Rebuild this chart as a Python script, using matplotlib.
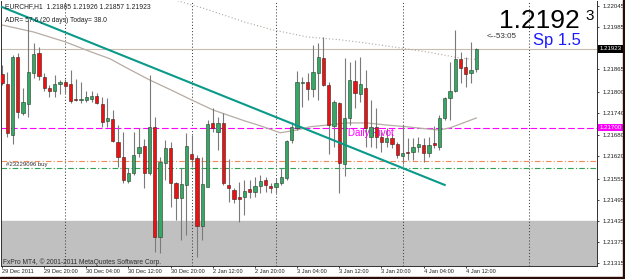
import matplotlib.pyplot as plt
import matplotlib.transforms as mtransforms
from matplotlib.patches import Rectangle
import numpy as np

# EURCHF H1 candles (oldest first)
opens = [1.21852, 1.21824, 1.21679, 1.21900, 1.21742, 1.21767, 1.21855, 1.21912, 1.21844, 1.21812,
         1.21804, 1.21824, 1.21829, 1.21824, 1.21781, 1.21778, 1.21778, 1.21781, 1.21790, 1.21767,
         1.21719, 1.21724, 1.21659, 1.21617, 1.21549, 1.21571, 1.21628, 1.21648, 1.21571, 1.21702,
         1.21390, 1.21600, 1.21643, 1.21543, 1.21500, 1.21537, 1.21625, 1.21614, 1.21421, 1.21531,
         1.21713, 1.21687, 1.21713, 1.21537, 1.21523, 1.21503, 1.21503, 1.21526, 1.21517, 1.21534,
         1.21551, 1.21534, 1.21531, 1.21543, 1.21557, 1.21665, 1.21699, 1.21827, 1.21829, 1.21810,
         1.21855, 1.21897, 1.21821, 1.21705, 1.21770, 1.21597, 1.21727, 1.21832, 1.21795, 1.21812,
         1.21673, 1.21702, 1.21673, 1.21659, 1.21670, 1.21654, 1.21619, 1.21631, 1.21631, 1.21645,
         1.21651, 1.21628, 1.21656, 1.21645, 1.21727, 1.21784, 1.21804, 1.21895, 1.21872, 1.21855,
         1.21865]
highs = [1.21878, 1.21858, 1.21906, 1.21912, 1.21812, 1.22005, 1.21940, 1.21929, 1.21855, 1.21821,
         1.21849, 1.21835, 1.21838, 1.21863, 1.21838, 1.21829, 1.21804, 1.21804, 1.21798, 1.21787,
         1.21784, 1.21750, 1.21707, 1.21687, 1.21586, 1.21687, 1.21699, 1.21668, 1.21849, 1.21730,
         1.21617, 1.21665, 1.21659, 1.21546, 1.21586, 1.21685, 1.21679, 1.21622, 1.21617, 1.21722,
         1.21756, 1.21730, 1.21742, 1.21611, 1.21529, 1.21546, 1.21551, 1.21551, 1.21560, 1.21565,
         1.21560, 1.21543, 1.21557, 1.21586, 1.21665, 1.21716, 1.21861, 1.21844, 1.21855, 1.21934,
         1.21940, 1.21957, 1.21829, 1.21778, 1.21773, 1.21897, 1.21886, 1.21892, 1.21900, 1.21863,
         1.21778, 1.21756, 1.21687, 1.21699, 1.21685, 1.21659, 1.21707, 1.21670, 1.21670, 1.21673,
         1.21670, 1.21673, 1.21705, 1.21736, 1.21787, 1.21886, 1.21977, 1.21914, 1.21900, 1.21943,
         1.21926]
lows = [1.21821, 1.21673, 1.21654, 1.21727, 1.21736, 1.21730, 1.21841, 1.21835, 1.21804, 1.21787,
        1.21787, 1.21795, 1.21798, 1.21770, 1.21775, 1.21770, 1.21773, 1.21773, 1.21767, 1.21702,
        1.21702, 1.21659, 1.21588, 1.21543, 1.21543, 1.21565, 1.21617, 1.21529, 1.21565, 1.21347,
        1.21344, 1.21551, 1.21475, 1.21438, 1.21381, 1.21395, 1.21588, 1.21333, 1.21381, 1.21531,
        1.21687, 1.21637, 1.21537, 1.21489, 1.21486, 1.21432, 1.21452, 1.21500, 1.21503, 1.21514,
        1.21517, 1.21514, 1.21514, 1.21537, 1.21551, 1.21656, 1.21693, 1.21758, 1.21778, 1.21787,
        1.21778, 1.21818, 1.21625, 1.21645, 1.21514, 1.21563, 1.21707, 1.21756, 1.21773, 1.21645,
        1.21645, 1.21643, 1.21631, 1.21645, 1.21643, 1.21614, 1.21597, 1.21608, 1.21608, 1.21631,
        1.21602, 1.21617, 1.21643, 1.21637, 1.21722, 1.21722, 1.21801, 1.21827, 1.21815, 1.21827,
        1.21857]
closes = [1.21827, 1.21685, 1.21900, 1.21744, 1.21773, 1.21858, 1.21909, 1.21846, 1.21812, 1.21804,
          1.21824, 1.21829, 1.21818, 1.21775, 1.21778, 1.21781, 1.21787, 1.21790, 1.21770, 1.21716,
          1.21727, 1.21662, 1.21617, 1.21551, 1.21571, 1.21622, 1.21645, 1.21571, 1.21702, 1.21390,
          1.21602, 1.21643, 1.21543, 1.21500, 1.21540, 1.21648, 1.21611, 1.21421, 1.21540, 1.21710,
          1.21699, 1.21713, 1.21543, 1.21529, 1.21497, 1.21497, 1.21520, 1.21517, 1.21534, 1.21549,
          1.21537, 1.21529, 1.21543, 1.21560, 1.21662, 1.21702, 1.21829, 1.21829, 1.21810, 1.21858,
          1.21900, 1.21821, 1.21707, 1.21773, 1.21600, 1.21727, 1.21835, 1.21798, 1.21824, 1.21699,
          1.21702, 1.21673, 1.21659, 1.21670, 1.21654, 1.21622, 1.21628, 1.21628, 1.21645, 1.21654,
          1.21628, 1.21651, 1.21651, 1.21727, 1.21784, 1.21804, 1.21895, 1.21869, 1.21852, 1.21863,
          1.21923]

time_labels = ["29 Dec 2011", "29 Dec 20:00", "30 Dec 04:00", "30 Dec 12:00", "30 Dec 20:00",
               "2 Jan 12:00", "2 Jan 20:00", "3 Jan 04:00", "3 Jan 12:00", "3 Jan 20:00",
               "4 Jan 04:00", "4 Jan 12:00"]
label_bars = [0, 8, 16, 24, 32, 40, 48, 56, 64, 72, 80, 88]
separator_bars = [12, 36, 52, 76, 100]

# moving averages (bar index, price)
ma_bars = [0, 6, 12, 17, 20.5, 23.3, 28, 32, 36, 40, 42.7, 46, 49, 52.8, 56, 58.4, 61.7,
           65.5, 69.3, 73, 76.9, 80.6, 83, 85, 90]
ma_vals = [1.21991, 1.21971, 1.21943, 1.21914, 1.21895, 1.21872, 1.21835, 1.21807, 1.21778,
           1.21750, 1.21736, 1.21719, 1.21705, 1.21685, 1.21693, 1.21702, 1.21707, 1.21713,
           1.21713, 1.21707, 1.21702, 1.21696, 1.21693, 1.21699, 1.21727]
slow_bars = [32, 38.1, 46.1, 51.4, 57.9, 64.1, 68.9, 75.5, 81.2, 86.9, 90]
slow_vals = [1.22065, 1.22039, 1.21999, 1.21977, 1.21957, 1.21949, 1.21940, 1.21926, 1.21913,
             1.21897, 1.21893]
trend_bars = [0, 84]
trend_vals = [1.22042, 1.21537]

bid = 1.21923
pivot = 1.21700
stop_level = 1.21605
order_level = 1.21586
zone_top = 1.21435
y_ticks = [1.22045, 1.21985, 1.21865, 1.21800, 1.21740, 1.21680, 1.21620, 1.21555,
           1.21495, 1.21435, 1.21375, 1.21315]

plt.rcParams['font.family'] = ['Liberation Sans', 'DejaVu Sans']

W, H = 625, 279
fig = plt.figure(figsize=(W / 100, H / 100), dpi=100)
fig.patch.set_facecolor('white')
ax = fig.add_axes([1 / W, 13 / H, 596 / W, 265 / H])

ymin, ymax = 1.21307, 1.22059
ax.set_xlim(-0.19, 112.9)
ax.set_ylim(ymin, ymax)

ax.axhspan(ymin, zone_top, color='#c0c0c0', zorder=0)

for b in separator_bars:
    ax.axvline(b, color='#404040', lw=0.75, ls=(0, (1, 2)), zorder=1)

ax.axhline(bid, color='#c8bcae', lw=0.8, zorder=1)
ax.axhline(pivot, color='#ff00ff', lw=0.8, ls=(0, (6, 2.5)), zorder=1)
ax.axhline(stop_level, color='#f08a5a', lw=0.8, ls=(0, (5, 2, 1, 2)), zorder=1)
ax.axhline(order_level, color='#2fa050', lw=0.8, ls=(0, (5, 2, 1, 2)), zorder=1)

ax.plot(slow_bars, slow_vals, color='#b0a8a0', lw=0.8, ls=(0, (1, 2)), zorder=2)
ax.plot(ma_bars, ma_vals, color='#b5aca4', lw=0.9, zorder=2)
ax.plot(trend_bars, trend_vals, color='#0a9a8a', lw=1.5, zorder=5)

o = np.array(opens)
h = np.array(highs)
l = np.array(lows)
c = np.array(closes)
x = np.arange(len(o))
up = c >= o
body_lo = np.minimum(o, c)
body_h = np.maximum(np.abs(c - o), 0.000018)

ax.vlines(x, l, h, color='#7a7a7a', lw=0.8, zorder=3)
ax.bar(x[up], body_h[up], 0.62, bottom=body_lo[up], color='#36a866', edgecolor='#2a3a2a',
       linewidth=0.4, zorder=4)
ax.bar(x[~up], body_h[~up], 0.62, bottom=body_lo[~up], color='#ee1111', edgecolor='#3a2020',
       linewidth=0.4, zorder=4)

# axes styling
ax.spines['top'].set_visible(False)
for side in ['left', 'right', 'bottom']:
    ax.spines[side].set_color('#303030')
    ax.spines[side].set_linewidth(0.7)

ax.yaxis.tick_right()
ax.set_yticks(y_ticks)
ax.set_yticklabels([f"{v:.5f}" for v in y_ticks])
ax.tick_params(axis='y', length=1.5, width=0.6, pad=2.2, labelsize=4.4, colors='#202020')
ax.set_xticks(label_bars)
ax.set_xticklabels(time_labels, ha='left')
ax.tick_params(axis='x', length=1.5, width=0.6, pad=1, labelsize=4.1, colors='#202020')

# price tags on the axis
tag = mtransforms.blended_transform_factory(ax.transAxes, ax.transData)
ax.text(1.004, bid, f"{bid:.5f}", transform=tag, fontsize=4.4, color='white', va='center',
        ha='left', bbox=dict(boxstyle='square,pad=0.2', fc='black', ec='none'), clip_on=False)
ax.text(1.004, pivot, f"{pivot:.5f}", transform=tag, fontsize=4.4, color='white', va='center',
        ha='left', bbox=dict(boxstyle='square,pad=0.2', fc='#ff00ff', ec='none'), clip_on=False)

# chart labels
ax.text(65.6, pivot - 0.00002, "Daily Pivot", color='#ff00ff', fontsize=7, va='top', ha='left')
ax.text(0.8, (stop_level + order_level) / 2, "#23229096 buy", color='#303030', fontsize=4.3,
        va='center', ha='left')


def px(xp, yp):
    return xp / W, 1 - yp / H


fig.text(*px(5, 6.5), "EURCHF,H1  1.21865 1.21926 1.21857 1.21923", fontsize=4.9,
         color='#202020', va='center')
fig.text(*px(5, 20), "ADR= 57.6 (20 days) Today= 38.0", fontsize=4.9, color='#202020',
         va='center')
fig.text(*px(3, 262), "FxPro MT4, \u00a9 2001-2011 MetaQuotes Software Corp.", fontsize=4.8,
         color='#303030', va='center')
fig.text(*px(499, 28), "1.2192", fontsize=19, color='black', va='baseline')
fig.text(*px(585, 20.5), "3", fontsize=11, color='black', va='baseline')
fig.text(*px(533, 45), "Sp 1.5", fontsize=12, color='#1a1aff', va='baseline')
fig.text(*px(487, 37), "<--53:05", fontsize=5.8, color='#303030', va='center')

# window border
fig.patches.append(Rectangle((623 / W, 0), 2 / W, 1, transform=fig.transFigure,
                             color='#2a0c06', zorder=10))
fig.patches.append(Rectangle((0, 0), 1, 2.5 / H, transform=fig.transFigure,
                             color='#2a0c06', zorder=10))

fig.savefig('out.png', dpi=100, facecolor='white')
